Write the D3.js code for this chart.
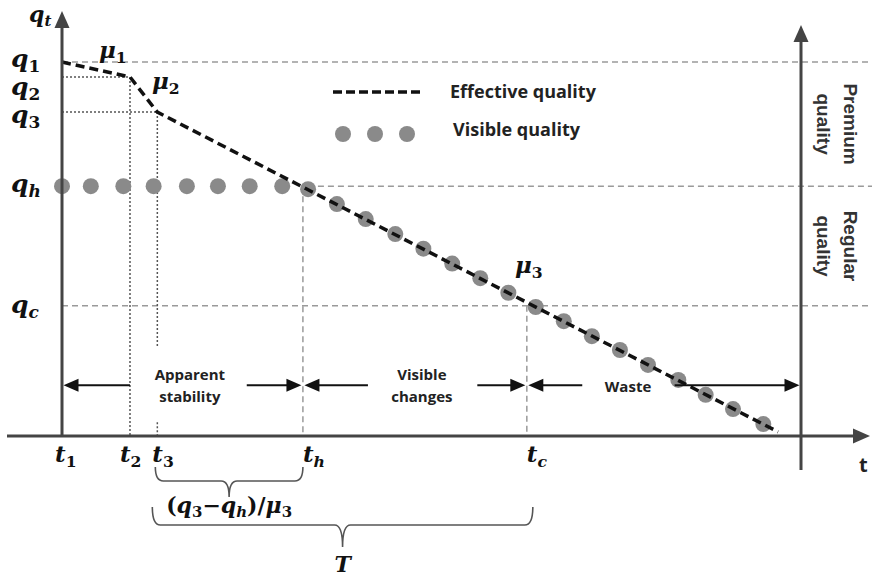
<!DOCTYPE html>
<html>
<head>
<meta charset="utf-8">
<script src="https://cdn.jsdelivr.net/npm/d3@7"></script>
<style>
  body { margin: 0; background: #fff; }
  svg { display: block; }
</style>
</head>
<body>
<svg id="chart" width="872" height="577"></svg>
<script>
// Time marks on the t axis (arbitrary units, t1 = 0, right axis at timeEnd)
const timeSubs = ["1", "2", "3", "h", "c"];
const timeValues = [0, 9.2, 12.9, 32.6, 62.9];
const timeEnd = 100;

// Quality levels on the q axis
const levelSubs = ["1", "2", "3", "h", "c"];
const levelValues = [100, 96, 86.6, 66.8, 34.8];

// Effective quality: piecewise linear decay (rates mu1, mu2, mu3)
const effectiveT = [0, 9.2, 12.9, 96.9];
const effectiveQ = [100, 96, 86.6, 1.1];

// Visible quality: stays at q_h until t_h, then follows the effective quality
const visibleT = [0, 3.9, 8.3, 12.4, 16.9, 21.1, 25.4, 29.8,
  33.3, 37.2, 41.1, 45.1, 48.9, 52.8, 56.6, 60.4, 64.1, 67.9, 71.7, 75.5, 79.3, 83.4, 87.1, 90.8, 94.9];
const visibleQ = [66.8, 66.8, 66.8, 66.8, 66.8, 66.8, 66.8, 66.8,
  66.0, 62.0, 58.0, 54.0, 50.1, 46.1, 42.2, 38.3, 34.5, 30.7, 26.7, 23.0, 19.0, 15.0, 11.0, 7.2, 3.2];

// Phase annotations along the time axis
const phaseLines = [["Apparent", "stability"], ["Visible", "changes"], ["Waste"]];
const phaseCenters = [17.3, 48.7, 76.6];
const arrowFrom = [9.2, 25.0, 41.4, 56.2, 70.4, 82.9];
const arrowTo = [0, 32.6, 32.6, 62.9, 62.9, 100];
const arrowLevel = 13.6;

// Quality bands on the right axis
const bandLines = [["Premium", "quality"], ["Regular", "quality"]];

const svg = d3.select("#chart");
const x = d3.scaleLinear().domain([0, timeEnd]).range([62, 801]);
const y = d3.scaleLinear().domain([0, 100]).range([436, 62]);

const T = i => x(timeValues[i]);
const Q = i => y(levelValues[i]);

const AXIS = "#444";
const GUIDE = "#9a9a9a";
const DOT = "#8a8a8a";
const mathFont = "'DejaVu Serif', serif";
const sansFont = "'Open Sans', Lato, sans-serif";

// ---- guide lines ----
const guides = svg.append("g").attr("fill", "none");
function guide(x1, y1, x2, y2, dash, color) {
  guides.append("line")
    .attr("x1", x1).attr("y1", y1).attr("x2", x2).attr("y2", y2)
    .attr("stroke", color).attr("stroke-width", 1.5).attr("stroke-dasharray", dash);
}
// dashed quality thresholds
guide(x(0), Q(0), 872, Q(0), "6,4", GUIDE);
guide(T(3) + 5, Q(3), 872, Q(3), "6,4", GUIDE);
guide(x(0), Q(4), 872, Q(4), "6,4", GUIDE);
// dashed time marks t_h and t_c
guide(T(3), Q(3), T(3), y(0), "6,4", GUIDE);
guide(T(4), Q(4), T(4), y(0), "6,4", GUIDE);

// ---- visible quality dots ----
svg.append("g").selectAll("circle")
  .data(d3.range(visibleT.length))
  .join("circle")
  .attr("cx", i => x(visibleT[i]))
  .attr("cy", i => y(visibleQ[i]))
  .attr("r", 8)
  .attr("fill", DOT);

// dotted projections for q2/t2 and q3/t3
guide(x(0), Q(1), T(1), Q(1), "2,2", "#555");
guide(x(0), Q(2), T(2), Q(2), "2,2", "#555");
guide(T(1), Q(1), T(1), y(0), "2,2", "#555");
guide(T(2), Q(2), T(2), y(arrowLevel) - 38, "2,2", "#555");
guide(T(2), y(arrowLevel) + 37, T(2), y(0), "2,2", "#555");

// ---- effective quality ----
const line = d3.line().x(i => x(effectiveT[i])).y(i => y(effectiveQ[i]));
svg.append("path")
  .attr("d", line(d3.range(effectiveT.length)))
  .attr("fill", "none")
  .attr("stroke", "#111")
  .attr("stroke-width", 3.5)
  .attr("stroke-dasharray", "9,5");

// ---- axes ----
const axes = svg.append("g");
function arrowHead(g, tipX, tipY, dir, len, half, color) {
  // dir: unit vector pointing toward the tip
  const bx = tipX - dir[0] * len, by = tipY - dir[1] * len;
  const px = -dir[1] * half, py = dir[0] * half;
  g.append("path")
    .attr("d", `M${tipX},${tipY}L${bx + px},${by + py}L${bx - px},${by - py}Z`)
    .attr("fill", color);
}
axes.append("line").attr("x1", x(0)).attr("y1", y(0)).attr("x2", x(0)).attr("y2", 22)
  .attr("stroke", AXIS).attr("stroke-width", 3);
arrowHead(axes, x(0), 11, [0, -1], 17, 7.5, AXIS);
axes.append("line").attr("x1", 7).attr("y1", y(0)).attr("x2", 858).attr("y2", y(0))
  .attr("stroke", AXIS).attr("stroke-width", 3);
arrowHead(axes, 870, y(0), [1, 0], 17, 7.5, AXIS);
axes.append("line").attr("x1", x(timeEnd)).attr("y1", 470).attr("x2", x(timeEnd)).attr("y2", 36)
  .attr("stroke", AXIS).attr("stroke-width", 3);
arrowHead(axes, x(timeEnd), 25, [0, -1], 17, 7.5, AXIS);

// ---- phase arrows ----
const arrows = svg.append("g");
d3.range(arrowFrom.length).forEach(i => {
  const x1 = x(arrowFrom[i]), x2 = x(arrowTo[i]);
  const dir = x2 > x1 ? 1 : -1;
  const tip = x2 - dir * 1.5;
  const ay = y(arrowLevel);
  arrows.append("line").attr("x1", x1).attr("y1", ay).attr("x2", tip - dir * 12).attr("y2", ay)
    .attr("stroke", "#111").attr("stroke-width", 2);
  arrowHead(arrows, tip, ay, [dir, 0], 15, 6.5, "#111");
});

// phase labels
phaseLines.forEach((lines, i) => {
  const t = svg.append("text")
    .attr("x", x(phaseCenters[i]))
    .attr("y", lines.length === 1 ? y(arrowLevel) + 7 : y(arrowLevel) - 5)
    .attr("text-anchor", "middle")
    .attr("font-family", sansFont).attr("font-weight", 700).attr("font-size", 15)
    .attr("fill", "#222");
  lines.forEach((s, k) => t.append("tspan").attr("x", x(phaseCenters[i])).attr("dy", k ? 22 : 0).text(s));
});

// ---- math labels ----
function mathLabel(px, py, parts, size, anchor) {
  const t = svg.append("text")
    .attr("x", px).attr("y", py)
    .attr("text-anchor", anchor || "start")
    .attr("font-family", mathFont).attr("font-weight", 700).attr("font-style", "italic")
    .attr("font-size", size).attr("fill", "#111");
  let shift = 0;
  parts.forEach(p => {
    const sub = p.sub === true;
    const s = t.append("tspan").text(p.s);
    const target = sub ? size * 0.2 : 0;
    if (target !== shift) { s.attr("dy", target - shift); shift = target; }
    if (sub) s.attr("font-size", size * 0.68);
    if (/^[0-9()\/−]+$/.test(p.s)) s.attr("font-style", "normal");
  });
  return t;
}
const q = (sub) => [{ s: "q" }, { s: sub, sub: true }];

// q axis title
mathLabel(29, 22, q("t"), 22);
// quality level labels
const levelLabelY = [5, 18, 11, 6, 7];
levelSubs.forEach((s, i) => mathLabel(11, Q(i) + levelLabelY[i], q(s), 25));
// time labels
const timeLabelDX = [-7, -10, -5, 0, 0];
timeSubs.forEach((s, i) => mathLabel(T(i) + timeLabelDX[i], 462, [{ s: "t" }, { s: s, sub: true }], 23));
// rate labels
mathLabel(99, 58, [{ s: "μ" }, { s: "1", sub: true }], 23);
mathLabel(152, 89, [{ s: "μ" }, { s: "2", sub: true }], 23);
mathLabel(515, 273, [{ s: "μ" }, { s: "3", sub: true }], 23);

// right end of time axis
svg.append("text").attr("x", 859).attr("y", 472)
  .attr("font-family", sansFont).attr("font-weight", 700).attr("font-size", 20)
  .attr("fill", "#222").text("t");

// ---- braces ----
function brace(x0, x1, top, h, tip) {
  const xm = (x0 + x1) / 2, r = 8;
  const d = `M${x0},${top}Q${x0},${h} ${x0 + r},${h}L${xm - r},${h}Q${xm},${h} ${xm},${tip}` +
    `Q${xm},${h} ${xm + r},${h}L${x1 - r},${h}Q${x1},${h} ${x1},${top}`;
  svg.append("path").attr("d", d).attr("fill", "none").attr("stroke", "#555").attr("stroke-width", 1.6);
  return xm;
}
const m1 = brace(T(2) - 2, T(3), 467, 481, 497);
mathLabel(m1, 513, [{ s: "(" }, { s: "q" }, { s: "3", sub: true }, { s: "−" }, { s: "q" }, { s: "h", sub: true },
  { s: ")/" }, { s: "μ" }, { s: "3", sub: true }], 22, "middle");
const m2 = brace(T(2) - 5, T(4) + 6, 507, 525, 547);
mathLabel(m2, 572, [{ s: "T" }], 22, "middle");

// ---- quality bands on the right ----
const bandCenters = [(Q(0) + Q(3)) / 2, (Q(3) + Q(4)) / 2];
bandLines.forEach((lines, i) => {
  lines.forEach((s, k) => {
    svg.append("text")
      .attr("transform", `translate(${k ? 824 : 851},${bandCenters[i]}) rotate(90)`)
      .attr("text-anchor", "middle").attr("dy", "0.35em")
      .attr("font-family", "'Liberation Sans', Arial, sans-serif").attr("font-weight", 700)
      .attr("font-size", 19).attr("fill", "#333").text(s);
  });
});

// ---- legend ----
const legend = svg.append("g");
legend.append("line").attr("x1", 333).attr("y1", 92).attr("x2", 420).attr("y2", 92)
  .attr("stroke", "#111").attr("stroke-width", 3.5).attr("stroke-dasharray", "9,4");
legend.selectAll("circle").data([0, 1, 2]).join("circle")
  .attr("cx", d => 343 + d * 32).attr("cy", 134).attr("r", 8).attr("fill", DOT);
legend.append("text").attr("x", 450).attr("y", 98)
  .attr("font-family", sansFont).attr("font-weight", 700).attr("font-size", 18).attr("fill", "#222")
  .text("Effective quality");
legend.append("text").attr("x", 453).attr("y", 136)
  .attr("font-family", sansFont).attr("font-weight", 700).attr("font-size", 18).attr("fill", "#222")
  .text("Visible quality");
</script>
</body>
</html>
